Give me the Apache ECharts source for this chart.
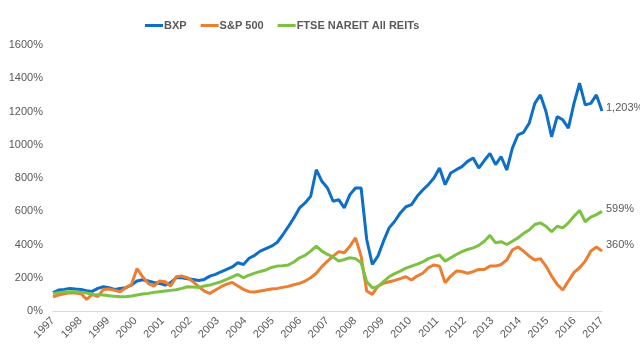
<!DOCTYPE html>
<html lang="en">
<head>
<meta charset="UTF-8">
<title>BXP vs S&amp;P 500 vs REITs</title>
<script src="https://cdn.jsdelivr.net/npm/echarts@6/dist/echarts.min.js"></script>
<style>
  body { margin: 0; background: #fff; }
  #main { width: 640px; height: 351px; }
</style>
</head>
<body>
<div id="main"></div>
<script>
// tick labels along the x axis (one per year)
const years = ['1997', '1998', '1999', '2000', '2001', '2002', '2003', '2004', '2005', '2006', '2007',
  '2008', '2009', '2010', '2011', '2012', '2013', '2014', '2015', '2016', '2017'];

// cumulative return, %, evenly spaced from the first to the last label
const bxp = [110, 126, 130, 136, 132, 130, 122, 118, 136, 146, 140, 130, 136, 140, 156, 180, 188, 180, 172, 166,
  156, 170, 200, 200, 194, 190, 184, 190, 210, 220, 236, 250, 265, 290, 280, 317, 335, 360, 375, 390,
  412, 457, 507, 560, 620, 650, 690, 850, 780, 740, 660, 670, 620, 700, 740, 740, 430, 280, 330, 420,
  500, 540, 590, 627, 640, 690, 728, 760, 800, 860, 760, 830, 850, 868, 900, 920, 860, 905, 948, 880,
  928, 848, 980, 1060, 1075, 1129, 1249, 1300, 1200, 1048, 1169, 1150, 1100, 1249, 1370, 1240, 1249, 1300, 1203];

const sp500 = [86, 96, 104, 110, 108, 104, 70, 100, 86, 130, 132, 125, 116, 140, 160, 255, 206, 166, 150, 180,
  176, 150, 206, 210, 200, 176, 146, 120, 106, 126, 146, 162, 172, 150, 130, 116, 114, 120, 126, 132,
  136, 142, 148, 158, 166, 180, 200, 227, 267, 300, 330, 357, 350, 390, 440, 330, 120, 100, 150, 166,
  176, 184, 195, 206, 186, 210, 227, 260, 277, 270, 170, 210, 240, 237, 227, 237, 250, 250, 270, 270,
  280, 307, 367, 385, 360, 330, 307, 315, 270, 210, 160, 126, 180, 232, 260, 300, 360, 385, 360];

const reits = [106, 110, 114, 116, 116, 112, 108, 100, 98, 96, 92, 88, 86, 86, 90, 96, 102, 106, 112, 116,
  120, 124, 128, 136, 146, 144, 142, 150, 156, 166, 176, 190, 205, 220, 200, 216, 228, 238, 247, 262,
  270, 272, 277, 295, 320, 335, 360, 390, 360, 340, 325, 300, 310, 320, 315, 290, 176, 140, 146, 176,
  206, 225, 240, 258, 270, 282, 295, 315, 327, 337, 300, 320, 340, 357, 370, 380, 395, 420, 455, 410,
  417, 400, 420, 440, 467, 487, 520, 530, 510, 477, 510, 500, 530, 570, 605, 537, 565, 580, 599];

const endLabels = ['1,203%', '360%', '599%'];

// place samples evenly along the 20-year axis
function toPoints(values) {
  const span = years.length - 1;
  return values.map((v, i) => [i * span / (values.length - 1), v]);
}

const chart = echarts.init(document.getElementById('main'));
const font = 'Liberation Sans, Arial, sans-serif';
const grey = '#595959';

function lineSeries(name, values, color, label, offset) {
  return {
    name: name,
    type: 'line',
    data: toPoints(values),
    showSymbol: false,
    lineStyle: { color: color, width: 3 },
    itemStyle: { color: color },
    emphasis: { disabled: true },
    endLabel: {
      show: true,
      formatter: () => label,
      color: grey,
      fontSize: 11,
      fontFamily: font,
      distance: 4,
      offset: offset
    }
  };
}

chart.setOption({
  animation: false,
  textStyle: { fontFamily: font },
  legend: {
    top: 15,
    left: 140,
    icon: 'rect',
    itemWidth: 18,
    itemHeight: 3,
    itemGap: 14,
    textStyle: { color: grey, fontSize: 11, fontWeight: 'bold', fontFamily: font, padding: [0, 0, 0, -4] },
    data: ['BXP', 'S&P 500', 'FTSE NAREIT All REITs']
  },
  grid: { left: 53, right: 38, top: 45, bottom: 40 },
  xAxis: {
    type: 'value',
    min: 0,
    max: 20,
    interval: 1,
    splitLine: { show: false },
    axisTick: { show: false },
    axisLine: { lineStyle: { color: '#d9d9d9' } },
    axisLabel: {
      rotate: 45,
      color: grey,
      fontSize: 11,
      fontFamily: font,
      margin: 8,
      formatter: v => years[v]
    }
  },
  yAxis: {
    type: 'value',
    min: 0,
    max: 1600,
    interval: 200,
    splitLine: { show: false },
    axisLine: { show: false },
    axisTick: { show: false },
    axisLabel: { color: grey, fontSize: 11, fontFamily: font, margin: 10, formatter: v => v + '%' }
  },
  series: [
    lineSeries('BXP', bxp, '#0F6FC6', endLabels[0], [0, -3]),
    lineSeries('S&P 500', sp500, '#ED7D31', endLabels[1], [0, -6]),
    lineSeries('FTSE NAREIT All REITs', reits, '#7CC242', endLabels[2], [0, -2])
  ]
});
</script>
</body>
</html>
